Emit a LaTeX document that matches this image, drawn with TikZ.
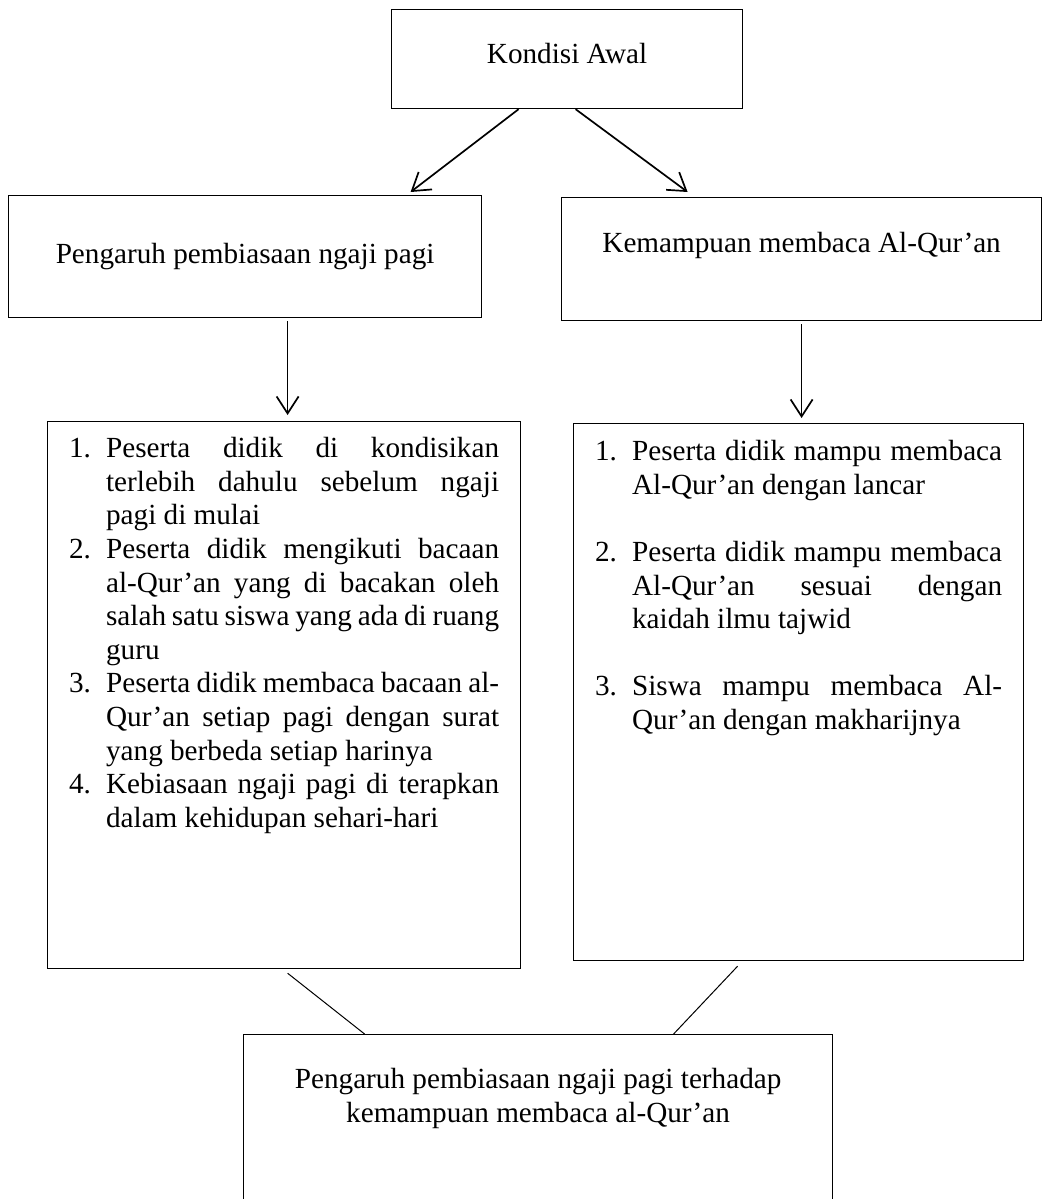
\documentclass[tikz,border=0pt]{standalone}
\usepackage{fontspec}
\setmainfont{Liberation Serif}
\usepackage{enumitem}
\usetikzlibrary{arrows.meta}
\setlist[enumerate]{leftmargin=37pt,labelindent=0pt,labelwidth=37pt,labelsep=0pt,align=left,topsep=0pt,partopsep=0pt,parsep=0pt,itemsep=0pt}
\hyphenpenalty=10000
\tolerance=9999

\tikzset{
  kotak/.style={draw, line width=1.2pt, inner sep=0pt, anchor=north west,
    font=\fontsize{29.2pt}{33.6pt}\selectfont},
  daftar/.style={kotak, inner xsep=21.5pt, align=justify},
  panah/.style={line width=1.7pt, -{Straight Barb[length=17pt,width=22pt]}},
  garis/.style={line width=1pt}
}

\begin{document}
\begin{tikzpicture}[x=1pt, y=-1pt]
  \useasboundingbox (0,0) rectangle (1043,1199);

  \node[kotak, minimum width=351pt, text height=54pt, text depth=45pt] (awal) at (391,9) {Kondisi Awal};
  \node[kotak, minimum width=473pt, text height=68pt, text depth=54pt] (pengaruh) at (8,195) {Pengaruh pembiasaan ngaji pagi};
  \node[kotak, minimum width=480pt, text height=55pt, text depth=68pt] (kemampuan) at (561,197) {Kemampuan membaca Al-Qur’an};

  \node[daftar, text width=430pt, text height=2.4pt, text depth=544.6pt] (listkiri) at (47,421) {%
    \begin{enumerate}
      \item Peserta didik di kondisikan\linebreak terlebih dahulu sebelum ngaji\linebreak pagi di mulai
      \item Peserta didik mengikuti bacaan\linebreak al-Qur’an yang di bacakan oleh\linebreak salah satu siswa yang ada di ruang\linebreak guru
      \item Peserta didik membaca bacaan al-\linebreak Qur’an setiap pagi dengan surat\linebreak yang berbeda setiap harinya
      \item Kebiasaan ngaji pagi di terapkan\linebreak dalam kehidupan sehari-hari
    \end{enumerate}};
  \node[daftar, text width=407pt, text height=3.4pt, text depth=533.6pt] (listkanan) at (573,423) {%
    \begin{enumerate}[itemsep=33.6pt]
      \item Peserta didik mampu membaca\linebreak Al-Qur’an dengan lancar
      \item Peserta didik mampu membaca\linebreak Al-Qur’an sesuai dengan\linebreak kaidah ilmu tajwid
      \item Siswa mampu membaca Al-\linebreak Qur’an dengan makharijnya
    \end{enumerate}};

  \node[kotak, minimum width=589pt, text height=87.6pt, text depth=83.4pt, align=center] (hasil) at (243,1034) {Pengaruh pembiasaan ngaji pagi terhadap\\kemampuan membaca al-Qur’an};

  \draw[panah] ([xshift=-48.5pt]awal.south) -- ([xshift=165.5pt,yshift=3pt]pengaruh.north);
  \draw[panah] ([xshift=8.5pt]awal.south) -- ([xshift=-114pt,yshift=5pt]kemampuan.north);
  \draw[panah] ([xshift=42.5pt,yshift=-3pt]pengaruh.south) -- ([xshift=3.5pt,yshift=6pt]listkiri.north);
  \draw[panah] ([yshift=-3pt]kemampuan.south) -- ([xshift=3pt,yshift=5pt]listkanan.north);
  \draw[garis] ([xshift=3.5pt,yshift=-4pt]listkiri.south) -- ([xshift=-173.5pt]hasil.north);
  \draw[garis] ([xshift=-61pt,yshift=-5pt]listkanan.south) -- ([xshift=135.5pt]hasil.north);
\end{tikzpicture}
\end{document}
